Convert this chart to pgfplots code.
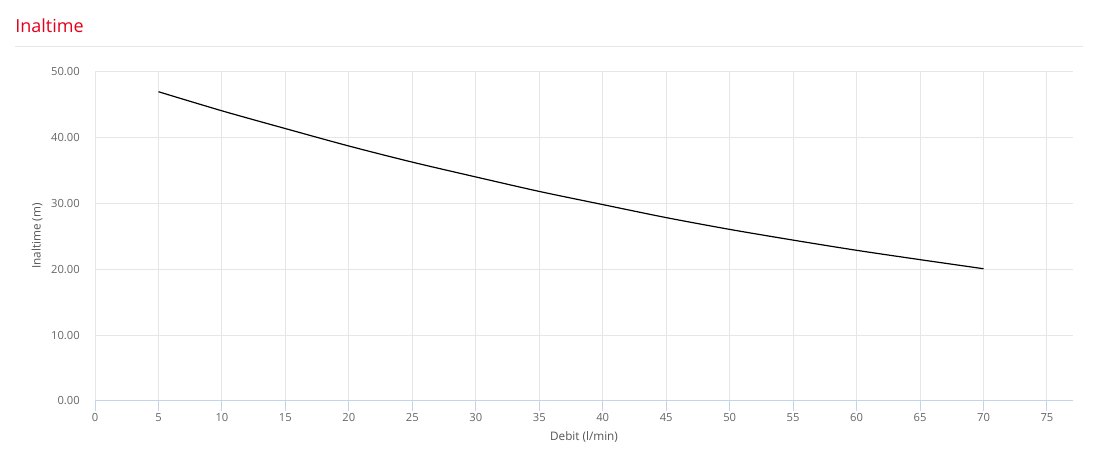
\documentclass[border=0pt]{standalone}
\usepackage{fontspec}
\setmainfont{Open Sans}
\usepackage{pgfplots}
\pgfplotsset{compat=1.18}
\definecolor{titlered}{HTML}{E2001A}
\definecolor{gridgray}{HTML}{E6E6E6}
\definecolor{axisblue}{HTML}{C6D4EA}
\definecolor{textgray}{HTML}{666666}
\definecolor{labelgray}{HTML}{555555}
\begin{document}
\begin{tikzpicture}[x=0.75pt,y=0.75pt]
\useasboundingbox (0,0) rectangle (1095,473);
\node[anchor=base west, text=titlered, font=\fontsize{13.5}{16}\selectfont, inner sep=0pt] at (15,440) {Inaltime};
\draw[gridgray, line width=0.75pt] (15,426) -- (1083,426);
\begin{axis}[
  at={(71.25pt,54pt)}, anchor=south west,
  scale only axis, width=733.5pt, height=246.75pt,
  xmin=0, xmax=77.05, ymin=0, ymax=50,
  xtick={0,5,...,75}, ytick={0,10,...,50},
  grid=major, major grid style={gridgray, line width=0.75pt},
  separate axis lines,
  axis x line*=bottom, axis y line*=left,
  x axis line style={axisblue, line width=0.75pt, -},
  y axis line style={draw=none},
  tick align=outside,
  major tick length=7.5pt,
  xtick style={axisblue, line width=0.75pt},
  ytick style={draw=none},
  /pgf/number format/assume math mode=true,
  yticklabel style={/pgf/number format/.cd, fixed, fixed zerofill, precision=2, /tikz/.cd,
    font=\fontsize{8.4}{10}\selectfont, text=textgray, inner sep=0pt, xshift=-3.75pt},
  xticklabel style={font=\fontsize{8.4}{10}\selectfont, text=textgray, inner sep=0pt, yshift=-1.5pt},
  clip=false,
]
\addplot[black, line width=0.9pt, smooth] coordinates {
(5,47.0) (10,44.1) (15,41.4) (20,38.75) (25,36.3) (30,34.05) (35,31.85)
(40,29.85) (45,27.87) (50,26.08) (55,24.45) (60,22.9) (65,21.48) (70,20.1)
};
\end{axis}
\node[text=labelgray, font=\fontsize{8.8}{10}\selectfont] at (584,36) {Debit (l/min)};
\node[text=labelgray, font=\fontsize{8.8}{10}\selectfont, rotate=90] at (37,237) {Inaltime (m)};
\end{tikzpicture}
\end{document}
